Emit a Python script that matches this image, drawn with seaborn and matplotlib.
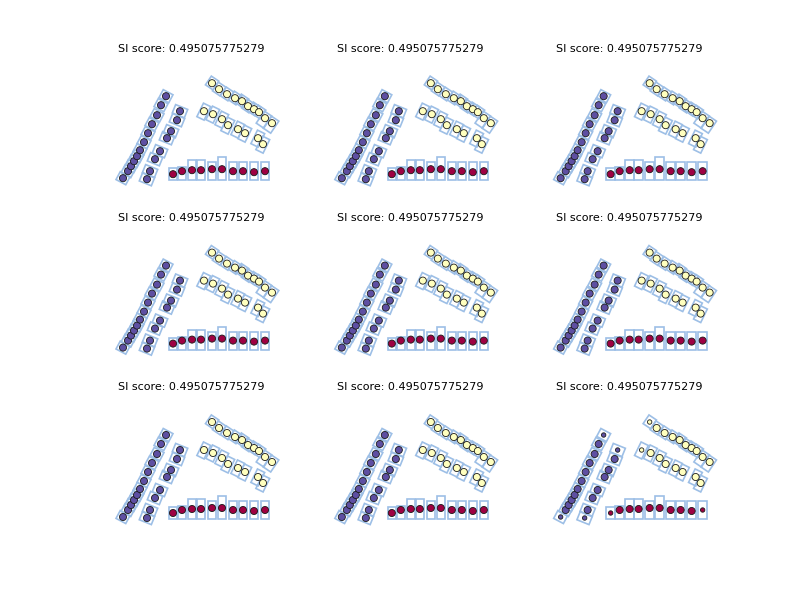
import numpy as np
import pandas as pd
import matplotlib
matplotlib.use("Agg")
import matplotlib.pyplot as plt
from matplotlib.patches import Rectangle
import seaborn as sns

# point positions (x right, y up)
line_a_x = [23, 28, 31, 34, 37, 40, 44, 48, 52, 57, 61, 66]
line_a_y = [23, 30, 35, 40, 45, 51, 59, 68, 77, 86, 96, 105]
pairs_a_x = [80, 77, 71, 67, 60, 55, 50, 47]
pairs_a_y = [90, 81, 70, 63, 50, 42, 30, 22]
line_b_x = [112, 119, 127, 135, 142, 148, 154, 159, 165, 172]
line_b_y = [118, 112, 107, 103, 100, 95, 92, 89, 83, 78]
pairs_b_x = [104, 113, 122, 128, 138, 145, 158, 163]
pairs_b_y = [90, 87, 82, 76, 72, 68, 63, 57]
row_c_x = [73, 82, 92, 101, 112, 122, 133, 143, 154, 165]
row_c_y = [27, 30, 31, 31, 32, 32, 30, 30, 29, 30]

# box extents below / above each point (across the group direction)
line_a_below = [5.5] * 12
line_a_above = [5.5] * 12
pairs_a_below = [6.5] * 8
pairs_a_above = [6.5] * 8
line_b_below = [5, 5, 5, 5, 5, 5, 5, 5, 9, 9]
line_b_above = [5.5] * 10
pairs_b_below = [8] * 8
pairs_b_above = [7] * 8
row_c_below = [6, 9, 10, 10, 11, 11, 9, 9, 8, 9]
row_c_above = [6, 4, 10, 10, 7, 12, 9, 9, 10, 9]

# group direction (deg) and cluster label
group_angle = {"line_a": 62, "pairs_a": 68, "line_b": -34, "pairs_b": -26, "row_c": 0}
group_label = {"line_a": 2, "pairs_a": 2, "line_b": 1, "pairs_b": 1, "row_c": 0}

si_score = "0.495075775279"

# last panel: points drawn smaller
small_last = {"line_a": [0, 11], "pairs_a": [0, 7], "line_b": [0], "pairs_b": [0], "row_c": [0, 9]}

groups = {
    "line_a": (line_a_x, line_a_y, line_a_below, line_a_above),
    "pairs_a": (pairs_a_x, pairs_a_y, pairs_a_below, pairs_a_above),
    "line_b": (line_b_x, line_b_y, line_b_below, line_b_above),
    "pairs_b": (pairs_b_x, pairs_b_y, pairs_b_below, pairs_b_above),
    "row_c": (row_c_x, row_c_y, row_c_below, row_c_above),
}

rows = []
for g, (xs, ys, lo, hi) in groups.items():
    for i in range(len(xs)):
        rows.append({"group": g, "x": xs[i], "y": ys[i], "below": lo[i], "above": hi[i],
                     "label": group_label[g], "small": i in small_last[g]})
df = pd.DataFrame(rows)

sns.set_style("white")
cmap = sns.color_palette("Spectral", as_cmap=True)
palette = {0: cmap(0.0), 1: cmap(0.5), 2: cmap(1.0)}

fig, axes = plt.subplots(3, 3, figsize=(8, 6), dpi=100)
fig.subplots_adjust(left=0.125, right=0.9, top=0.9, bottom=0.1, wspace=0.2, hspace=0.2)

box_w = {"line_a": 9, "pairs_a": 9, "line_b": 9, "pairs_b": 8, "row_c": 8.5}
for k, ax in enumerate(axes.flat):
    for _, r in df.iterrows():
        g = r["group"]
        th = np.deg2rad(group_angle[g])
        u = np.array([np.cos(th), np.sin(th)])
        v = np.array([-np.sin(th), np.cos(th)])
        w = box_w[g]
        corner = np.array([r["x"], r["y"]]) - w / 2 * u - r["below"] * v
        ax.add_patch(Rectangle(corner, w, r["below"] + r["above"], angle=group_angle[g],
                               fill=False, edgecolor="#9dbfe6", linewidth=1.2, zorder=1))
    if k == 8:
        sizes = np.where(df["small"], 10, 26)
    else:
        sizes = np.full(len(df), 26)
    sns.scatterplot(data=df, x="x", y="y", hue="label", palette=palette, s=sizes,
                    edgecolor="#1a1a1a", linewidth=0.6, legend=False, ax=ax, zorder=3)
    ax.set_xlim(0, 182.35)
    ax.set_ylim(0, 141.2)
    ax.set_title(f"SI score: {si_score}", fontsize=8, color="black")
    ax.axis("off")

plt.savefig("out.png", dpi=100)
plt.close()
